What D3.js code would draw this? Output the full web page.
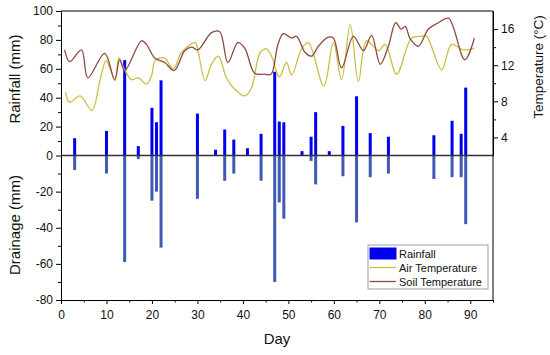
<!DOCTYPE html>
<html>
<head>
<meta charset="utf-8">
<script src="https://cdn.jsdelivr.net/npm/d3@7"></script>
<style>
  body { margin: 0; background: #fff; }
  text { font-family: Arial, "Liberation Sans", sans-serif; fill: #111; }
</style>
</head>
<body>
<div id="chart"></div>
<script>
// values
const barDays = [3, 10, 14, 17, 20, 21, 22, 30, 34, 36, 38, 41, 44, 47, 48, 49, 53, 55, 56, 59, 62, 65, 68, 72, 82, 86, 88, 89]
const rainfall = [12, 17, 66, 6.5, 33, 23, 52, 29, 4, 18, 11, 5, 15, 58, 23.5, 23, 3, 13, 30, 3, 20.5, 41, 15.5, 13, 14, 24, 15, 47]
const drainage = [-8, -10, -59, -2, -25, -20, -51, -24, 0, -14, -10, 0, -14, -70, -26, -35, 0, -3, -16, 0, -11.5, -37, -12, -10, -13, -12, -12, -38]

const airDays = [1, 1.9, 4.2, 6.8, 8.6, 9.9, 10.8, 11.9, 12.7, 13.7, 15.5, 17, 18.8, 19.9, 20.7, 22.7, 24.7, 26.5, 29.5, 30.2, 31.7, 33.1, 34.6, 36.3, 37.9, 40.5, 41.9, 43.8, 45.2, 46.3, 48, 49.6, 50.7, 53, 54.4, 57.8, 59.9, 61.7, 63.6, 65.4, 67.2, 69.8, 71.3, 73.8, 77.1, 79.3, 80.4, 83.7, 85.9, 88.5, 90.9]
const airTemp = [9.0, 7.9, 8.6, 7.0, 10.4, 12.5, 11.6, 10.3, 12.8, 11.8, 10.4, 10.6, 9.9, 10.8, 12.5, 12.8, 11.6, 13.4, 14.5, 13.4, 10.3, 12.1, 13.0, 10.7, 9.5, 8.6, 9.5, 13.4, 13.8, 13.0, 10.7, 12.3, 10.9, 13.9, 14.5, 9.7, 14.5, 10.4, 16.5, 10.2, 14.7, 13.6, 14.3, 11.0, 15.0, 15.2, 15.2, 11.5, 14.3, 13.7, 13.9]

const soilDays = [0.8, 1.9, 4.5, 5.9, 9.6, 11.8, 12.9, 14, 17.7, 18.8, 20.6, 22.8, 24.9, 27.2, 28.7, 30.1, 33.1, 34.9, 36.7, 38.9, 40.4, 42.6, 44.8, 46.2, 47.7, 48.9, 50.7, 51.8, 53.7, 55.1, 56.6, 58.8, 59.9, 61.7, 64.3, 66.5, 68.3, 70.2, 72, 73.6, 74.8, 75.7, 76.8, 78.6, 80.8, 83, 85.2, 88.8, 90.9]
const soilTemp = [13.7, 12.4, 13.7, 10.6, 13.3, 10.4, 12.6, 11.4, 14.7, 14.3, 12.8, 12.3, 11.4, 13.6, 14.0, 13.7, 15.6, 15.7, 12.3, 14.5, 13.9, 11.1, 11.0, 11.0, 14.3, 15.5, 15.0, 15.2, 13.4, 13.0, 14.1, 15.1, 15.0, 11.7, 15.2, 13.6, 15.3, 12.1, 14.1, 16.7, 16.0, 16.3, 14.9, 14.1, 16.0, 16.7, 17.2, 12.6, 15.0]

const xTicks = [0, 10, 20, 30, 40, 50, 60, 70, 80, 90]
const xMinor = [5, 15, 25, 35, 45, 55, 65, 75, 85, 95]
const rainTicks = [0, 20, 40, 60, 80, 100]
const rainMinor = [10, 30, 50, 70, 90]
const drainTicks = [-20, -40, -60, -80]
const drainMinor = [-10, -30, -50, -70]
const tempTicks = [4, 8, 12, 16]
const tempMinor = [6, 10, 14]

const width = 550
const height = 355
const plotLeft = 61, plotRight = 493, plotTop = 11, plotBottom = 300
const plotMid = (plotTop + plotBottom) / 2

const rainColor = "#0000f0"
const drainColor = "#4259b4"
const airColor = "#c9bf45"
const soilColor = "#8c4a40"

const svg = d3.select("#chart").append("svg")
  .attr("width", width)
  .attr("height", height)

const xScale = d3.scaleLinear().domain([0, 95]).range([plotLeft, plotRight])
const yRain = d3.scaleLinear().domain([0, 100]).range([plotMid, plotTop])
const yDrain = d3.scaleLinear().domain([-80, 0]).range([plotBottom, plotMid])
const yTemp = d3.scaleLinear().domain([2, 18]).range([plotMid, plotTop])

// Bars
const rows = barDays.map((d, i) => ({ day: d, rain: rainfall[i], drain: drainage[i] }))
const barW = 3

svg.append("g").selectAll("rect")
  .data(rows.filter(d => d.drain < 0)).enter()
  .append("rect")
    .attr("x", d => xScale(d.day) - barW / 2)
    .attr("y", plotMid)
    .attr("width", barW)
    .attr("height", d => yDrain(d.drain) - plotMid)
    .attr("fill", drainColor)

svg.append("g").selectAll("rect")
  .data(rows).enter()
  .append("rect")
    .attr("x", d => xScale(d.day) - barW / 2)
    .attr("y", d => yRain(d.rain))
    .attr("width", barW)
    .attr("height", d => plotMid - yRain(d.rain))
    .attr("fill", rainColor)

// zero line
svg.append("line")
  .attr("x1", plotLeft).attr("x2", plotRight)
  .attr("y1", yRain(0)).attr("y2", yRain(0))
  .attr("stroke", "#333").attr("stroke-width", 1.4)

// Temperature lines
const line = d3.line()
  .x(d => xScale(d[0]))
  .y(d => yTemp(d[1]))
  .curve(d3.curveCatmullRom.alpha(0.5))

svg.append("path")
  .datum(airDays.map((d, i) => [d, airTemp[i]]))
  .attr("d", line)
  .attr("fill", "none")
  .attr("stroke", airColor)
  .attr("stroke-width", 1.3)

svg.append("path")
  .datum(soilDays.map((d, i) => [d, soilTemp[i]]))
  .attr("d", line)
  .attr("fill", "none")
  .attr("stroke", soilColor)
  .attr("stroke-width", 1.3)

// Axes
function styleAxis(g) {
  g.selectAll("path, line").attr("stroke", "#000").attr("stroke-width", 1)
  g.selectAll("text").attr("font-size", 12).attr("fill", "#111")
}
const fmt = d => String(d)

svg.append("g").attr("transform", "translate(0," + plotBottom + ")")
  .call(d3.axisBottom(xScale).tickValues(xTicks).tickFormat(fmt).tickSize(4).tickSizeOuter(0).tickPadding(6))
  .call(styleAxis)
svg.append("g").attr("transform", "translate(0," + plotBottom + ")")
  .call(d3.axisBottom(xScale).tickValues(xMinor).tickFormat("").tickSize(2.5).tickSizeOuter(0))
  .call(styleAxis)

svg.append("g").attr("transform", "translate(" + plotLeft + ",0)")
  .call(d3.axisLeft(yRain).tickValues(rainTicks).tickFormat(fmt).tickSize(5).tickSizeOuter(0).tickPadding(3))
  .call(styleAxis)
svg.append("g").attr("transform", "translate(" + plotLeft + ",0)")
  .call(d3.axisLeft(yRain).tickValues(rainMinor).tickFormat("").tickSize(3).tickSizeOuter(0))
  .call(styleAxis)
svg.append("g").attr("transform", "translate(" + plotLeft + ",0)")
  .call(d3.axisLeft(yDrain).tickValues(drainTicks).tickFormat(fmt).tickSize(5).tickSizeOuter(0).tickPadding(3))
  .call(styleAxis)
svg.append("g").attr("transform", "translate(" + plotLeft + ",0)")
  .call(d3.axisLeft(yDrain).tickValues(drainMinor).tickFormat("").tickSize(3).tickSizeOuter(0))
  .call(styleAxis)

svg.append("g").attr("transform", "translate(" + plotRight + ",0)")
  .call(d3.axisRight(yTemp).tickValues(tempTicks).tickFormat(fmt).tickSize(5).tickSizeOuter(0).tickPadding(3))
  .call(styleAxis)
svg.append("g").attr("transform", "translate(" + plotRight + ",0)")
  .call(d3.axisRight(yTemp).tickValues(tempMinor).tickFormat("").tickSize(3).tickSizeOuter(0))
  .call(styleAxis)

// frame: right line full height and top line
svg.append("line")
  .attr("x1", plotRight).attr("x2", plotRight).attr("y1", plotTop).attr("y2", plotBottom)
  .attr("stroke", "#000")
svg.append("line")
  .attr("x1", plotLeft).attr("x2", plotRight).attr("y1", plotTop).attr("y2", plotTop)
  .attr("stroke", "#000")

// Axis titles
svg.append("text")
  .text("Day")
  .attr("text-anchor", "middle")
  .attr("font-size", 15)
  .attr("transform", "translate(" + (plotLeft + plotRight) / 2 + "," + 344 + ")")

svg.append("text")
  .text("Rainfall (mm)")
  .attr("text-anchor", "middle")
  .attr("font-size", 15)
  .attr("transform", "translate(20," + 79 + ")rotate(-90)")

svg.append("text")
  .text("Drainage (mm)")
  .attr("text-anchor", "middle")
  .attr("font-size", 15)
  .attr("transform", "translate(20," + 225 + ")rotate(-90)")

svg.append("text")
  .text("Temperature (°C)")
  .attr("text-anchor", "middle")
  .attr("font-size", 13.5)
  .attr("transform", "translate(543," + 67 + ")rotate(-90)")

// Legend
const legend = svg.append("g").attr("transform", "translate(368,245)")
legend.append("rect")
  .attr("width", 120).attr("height", 44)
  .attr("fill", "#fff").attr("stroke", "#888").attr("stroke-width", 0.8)

const legendItems = [
  { name: "Rainfall", type: "rect", color: rainColor },
  { name: "Air Temperature", type: "line", color: airColor },
  { name: "Soil Temperature", type: "line", color: soilColor }
]
legendItems.forEach((d, i) => {
  const cy = 8.5 + i * 14
  if (d.type === "rect") {
    legend.append("rect")
      .attr("x", 1.5).attr("y", cy - 6).attr("width", 27).attr("height", 12)
      .attr("fill", d.color)
  } else {
    legend.append("line")
      .attr("x1", 1.5).attr("x2", 28).attr("y1", cy).attr("y2", cy)
      .attr("stroke", d.color).attr("stroke-width", 1.3)
  }
  legend.append("text")
    .text(d.name)
    .attr("x", 31)
    .attr("y", cy + 4)
    .attr("font-size", 11)
})
</script>
</body>
</html>
